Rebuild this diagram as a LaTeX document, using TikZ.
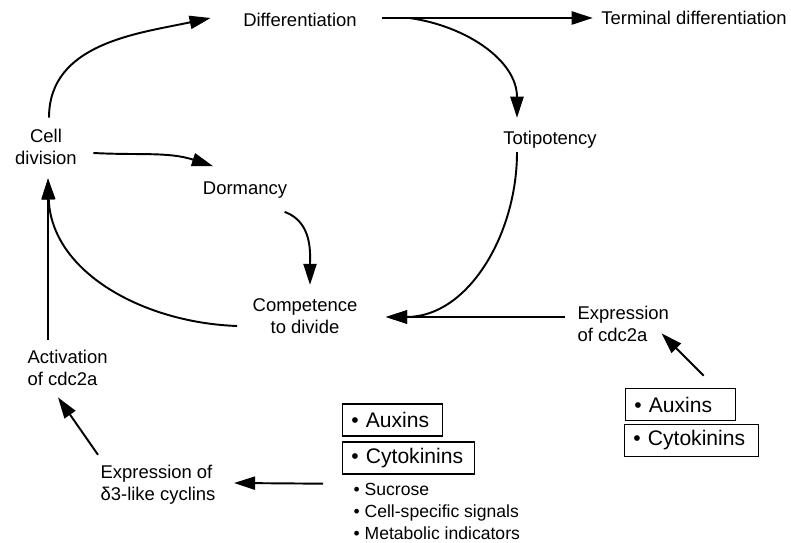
\documentclass[tikz,border=0pt]{standalone}
\usepackage{fontspec}
\setmainfont{Liberation Sans}
\usetikzlibrary{arrows.meta,calc}
\tikzset{
	arr/.style={-{Triangle[length=12pt,width=7.5pt]}, line width=1.1pt},
	lbl/.style={font=\fontsize{10.5}{12.5}\selectfont, inner sep=3pt},
	hbox/.style={draw, line width=0.8pt, anchor=west, inner xsep=5pt, inner ysep=0pt, minimum height=0.64cm, font=\fontsize{12}{14}\selectfont},
}
\begin{document}
\begin{tikzpicture}[x=0.02cm, y=0.02cm]
		\useasboundingbox (0,0) rectangle (791,543);
		\node[lbl] (diff) at (300,523) {Differentiation};
		\node[lbl] (term) at (694,525) {Terminal differentiation};
		\node[lbl, align=center] (cell) at (46,396) {Cell\\division};
		\node[lbl] (dorm) at (245,353) {Dormancy};
		\node[lbl] (toti) at (550,403) {Totipotency};
		\node[lbl, align=center] (comp) at (305,227) {Competence\\to divide};
		\node[lbl, align=left, anchor=west] (excdc) at (572,219) {Expression\\of cdc2a};
		\node[lbl, align=left, anchor=west] (act) at (22,175) {Activation\\of cdc2a};
		\node[lbl, align=left, anchor=west] (excyc) at (95,58) {Expression of\\δ3-like cyclins};
		
		\node[hbox, text width=46.9pt] (lauxin) at (342,123) {• Auxins};
		\node[hbox, text width=65.1pt] (lcyto) at (342,85) {• Cytokinins};
		\node[lbl, align=left, anchor=west, font=\fontsize{10}{12.5}\selectfont] (signals) at (348,32) {• Sucrose\\• Cell-specific signals\\• Metabolic indicators};
		\node[hbox, text width=52.6pt] (rauxin) at (625,138.5) {• Auxins};
		\node[hbox, text width=66.2pt] (rcyto) at (624,102.5) {• Cytokinins};
		
		\coordinate (cellin) at ($(cell.south)+(2,-8)$);
		\coordinate (compin) at ($(comp.east)+(23,-1)$);
		
		\draw[arr] ($(cell.north)+(3,6)$) to[out=90, in=192] ($(diff.west)+(-27,2)$);
		\draw[arr] ($(diff.east)+(20,2)$) -- ($(term.west)+(-3,0)$);
		\draw[arr] ($(diff.east)+(47,2)$) to[out=-8, in=90] ($(toti.north)+(-33,8)$);
		\draw[arr] ($(cell.east)+(11,-6)$) to[out=-3, in=162] ($(dorm.north)+(-32,10)$);
		\draw[arr] ($(dorm.south east)+(-8,-8)$) to[out=-20, in=90] ($(comp.north)+(5,8)$);
		\draw[arr] ($(toti.south)+(-33,2)$) to[out=-90, in=0] (compin);
		\draw[arr] ($(excdc.west)+(-7,7)$) -- (compin);
		\draw[arr] ($(comp.west)+(-10,-10)$) to[out=178, in=-88] (cellin);
		\draw[arr] ($(act.north -| cellin)+(0,5)$) -- (cellin);
		\draw[arr] ($(excyc.north west)+(3,5)$) -- ($(act.south west)+(36,-6)$);
		\draw[arr] ($(lcyto.south west)+(-19,-9)$) -- ($(excyc.east)+(13,2)$);
		\draw[arr] ($(rauxin.north)+(23,12)$) -- ($(excdc.south east)+(-13,14)$);
	\end{tikzpicture}
\end{document}
